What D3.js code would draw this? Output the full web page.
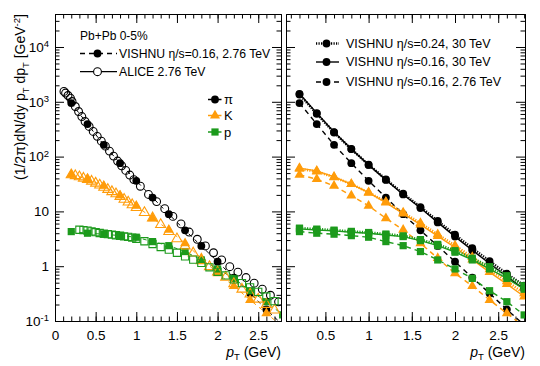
<!DOCTYPE html>
<html>
<head>
<meta charset="utf-8">
<script src="https://cdn.jsdelivr.net/npm/d3@7"></script>
<style>
  body { margin: 0; background: #fff; }
</style>
</head>
<body>
<div id="wrapper"></div>
<script>
// VISHNU hydro curves, pT grid (GeV)
const vishnuPt = [0.2, 0.4, 0.6, 0.8, 1.0, 1.2, 1.4, 1.6, 1.8, 2.0, 2.2, 2.4, 2.6, 2.8]

const pionEta016At276 = [946, 392, 164, 75.9, 36.1, 17.9, 8.9, 4.52, 2.34, 1.21, 0.62, 0.32, 0.162, 0.085]
const pionEta016At30 = [1400, 622, 280, 138, 70.6, 37.6, 20.4, 11.5, 6.3, 3.47, 1.95, 1.12, 0.65, 0.38]
const pionEta024At30 = [1360, 605, 275, 137, 71, 38.4, 21.1, 12.0, 6.7, 3.75, 2.13, 1.24, 0.73, 0.44]

const kaonEta016At276 = [46.5, 38.7, 29.2, 19.5, 12.6, 7.5, 4.6, 2.62, 1.40, 0.74, 0.435, 0.242, 0.138, 0.079]
const kaonEta016At30 = [61.7, 55.0, 42.7, 31.6, 21.9, 14.5, 9.1, 5.75, 3.55, 2.19, 1.32, 0.78, 0.47, 0.28]
const kaonEta024At30 = [59.5, 53.5, 42.0, 31.5, 22.2, 14.9, 9.5, 6.1, 3.8, 2.38, 1.46, 0.88, 0.53, 0.32]

const protonEta016At276 = [4.28, 4.0, 3.84, 3.61, 3.38, 2.81, 2.37, 1.85, 1.30, 0.89, 0.60, 0.357, 0.225, 0.129]
const protonEta016At30 = [4.79, 4.59, 4.41, 4.17, 4.0, 3.72, 3.47, 2.93, 2.37, 1.80, 1.30, 0.89, 0.60, 0.38]
const protonEta024At30 = [4.95, 4.75, 4.55, 4.32, 4.12, 3.86, 3.58, 3.06, 2.5, 1.92, 1.40, 0.98, 0.67, 0.44]

// ALICE 2.76 TeV data
const alicePionPt = [0.11, 0.13, 0.16, 0.19, 0.21, 0.25, 0.29, 0.33, 0.37, 0.42, 0.47, 0.52, 0.57, 0.62, 0.67,
  0.72, 0.77, 0.82, 0.87, 0.92, 0.97, 1.05, 1.15, 1.25, 1.35, 1.45, 1.55, 1.65, 1.75, 1.85,
  1.95, 2.05, 2.15, 2.25, 2.35, 2.45, 2.55, 2.65, 2.75]
const alicePion = [1549, 1445, 1303, 1167, 1012, 820, 665, 538, 437, 355, 288, 234, 191, 155, 126,
  102, 83, 68, 56, 46, 38, 28.8, 20.4, 15.1, 11.2, 8.1, 5.9, 4.2, 3.1, 2.34,
  1.76, 1.30, 0.98, 0.78, 0.62, 0.49, 0.38, 0.295, 0.224]

const aliceKaonPt = [0.2, 0.25, 0.3, 0.35, 0.4, 0.45, 0.5, 0.55, 0.6, 0.65, 0.7, 0.75, 0.8, 0.85, 0.9, 0.95, 1.0,
  1.1, 1.2, 1.3, 1.4, 1.5, 1.6, 1.7, 1.8, 1.9, 2.0, 2.1, 2.2, 2.3, 2.4, 2.5, 2.6, 2.7]
const aliceKaon = [46.5, 44.7, 42.7, 40.3, 38.0, 35.5, 32.7, 30.2, 27.5, 25.1, 22.9, 20.9, 18.6, 16.6, 14.8, 13.2, 11.7,
  9.5, 7.6, 5.75, 4.27, 3.16, 2.34, 1.74, 1.26, 0.98, 0.78, 0.63, 0.48, 0.38, 0.31, 0.25, 0.20, 0.158]

const aliceProtonPt = [0.3, 0.35, 0.4, 0.45, 0.5, 0.55, 0.6, 0.65, 0.7, 0.75, 0.8, 0.85, 0.9, 0.95, 1.0,
  1.1, 1.2, 1.3, 1.4, 1.5, 1.6, 1.7, 1.8, 1.9, 2.0, 2.1, 2.2, 2.3, 2.4, 2.5, 2.6, 2.7]
const aliceProton = [4.62, 4.57, 4.47, 4.32, 4.17, 4.03, 3.94, 3.85, 3.76, 3.67, 3.59, 3.51, 3.43, 3.31, 3.16,
  2.85, 2.54, 2.24, 2.0, 1.76, 1.51, 1.32, 1.15, 0.955, 0.79, 0.68, 0.575, 0.49, 0.41, 0.34, 0.28, 0.23]

const leftXTicks = [0, 0.5, 1, 1.5, 2, 2.5]
const rightXTicks = [0.5, 1, 1.5, 2, 2.5]
const yTicks = [0.1, 1, 10, 100, 1000, 10000]

const pionColor = "black"
const kaonColor = "#ff9c0a"
const protonColor = "#1c9a1c"
const font = '"Liberation Sans", Arial, sans-serif'

//1_dimensions
const width = 540
const height = 366
const frameTop = 14
const frameBottom = 321

//2_canvas
const svg = d3.select("#wrapper").append("svg")
    .attr("width", width)
    .attr("height", height)
    .style("font-family", font)

//3_scales
const yScale = d3.scaleLog().domain([0.1, 4e4]).range([frameBottom, frameTop])
const xLeft = d3.scaleLinear().domain([0, 2.78]).range([55, 281])
const xRight = d3.scaleLinear().domain([0.044, 2.81]).range([286, 525])

const minorY = []
yTicks.forEach(dec => {
  for (let k = 2; k <= 9; k++) if (dec * k < 4e4) minorY.push(dec * k)
})

const zip = (xs, ys) => xs.map((pt, i) => ({pt: pt, v: ys[i]}))

function supLabel(sel) {
  sel.each(function(d) {
    const t = d3.select(this)
    t.text(null)
    if (d === 1) { t.append("tspan").text("1"); return }
    if (d === 10) { t.append("tspan").text("10"); return }
    const e = Math.round(Math.log10(d))
    t.append("tspan").text("10")
    t.append("tspan").attr("dy", "-0.5em").style("font-size", "9.5px").text(e)
  })
}

function drawFrame(x, xTicks, showYLabels, id) {
  const [x0, x1] = x.range()
  const minorX = d3.range(0, 2.85, 0.1).filter(v => v >= x.domain()[0] && v <= x.domain()[1])
  const g = svg.append("g")

  const styleAxis = a => {
    a.attr("font-family", null).attr("font-size", null)
    a.selectAll("path, line").attr("stroke", "black").attr("stroke-width", 1)
    a.selectAll("text").attr("fill", "black").style("font-size", "13.5px")
  }

  // bottom / top
  g.append("g").attr("transform", `translate(0,${frameBottom})`)
      .call(d3.axisBottom(x).tickValues(minorX).tickSize(-4.5).tickSizeOuter(0).tickFormat(""))
      .call(styleAxis)
  g.append("g").attr("transform", `translate(0,${frameBottom})`)
      .call(d3.axisBottom(x).tickValues(xTicks).tickSize(-9).tickSizeOuter(0).tickPadding(9)
        .tickFormat(d3.format("~g")))
      .call(styleAxis)
  g.append("g").attr("transform", `translate(0,${frameTop})`)
      .call(d3.axisTop(x).tickValues(minorX).tickSize(-4.5).tickSizeOuter(0).tickFormat(""))
      .call(styleAxis)
  g.append("g").attr("transform", `translate(0,${frameTop})`)
      .call(d3.axisTop(x).tickValues(xTicks).tickSize(-9).tickSizeOuter(0).tickFormat(""))
      .call(styleAxis)

  // left / right
  g.append("g").attr("transform", `translate(${x0},0)`)
      .call(d3.axisLeft(yScale).tickValues(minorY).tickSize(-4.5).tickSizeOuter(0).tickFormat(""))
      .call(styleAxis)
  const yl = g.append("g").attr("transform", `translate(${x0},0)`)
      .call(d3.axisLeft(yScale).tickValues(yTicks).tickSize(-9).tickSizeOuter(0).tickPadding(6))
      .call(styleAxis)
  if (showYLabels) yl.selectAll("text").call(supLabel)
  else yl.selectAll("text").remove()
  g.append("g").attr("transform", `translate(${x1},0)`)
      .call(d3.axisRight(yScale).tickValues(minorY).tickSize(-4.5).tickSizeOuter(0).tickFormat(""))
      .call(styleAxis)
  g.append("g").attr("transform", `translate(${x1},0)`)
      .call(d3.axisRight(yScale).tickValues(yTicks).tickSize(-9).tickSizeOuter(0).tickFormat(""))
      .call(styleAxis)

  // x title
  const xt = svg.append("text")
      .attr("x", x1).attr("y", 356.5)
      .attr("text-anchor", "end")
      .style("font-size", "14px")
  xt.append("tspan").style("font-style", "italic").text("p")
  xt.append("tspan").attr("dy", 3.5).style("font-size", "9.5px").text("T")
  xt.append("tspan").attr("dy", -3.5).text(" (GeV)")

  svg.append("clipPath").attr("id", id)
    .append("rect").attr("x", x0).attr("y", frameTop).attr("width", x1 - x0).attr("height", frameBottom - frameTop)
  return svg.append("g").attr("clip-path", `url(#${id})`)
}

const symbolOf = {
  circle: d3.symbol().type(d3.symbolCircle).size(48),
  triangle: d3.symbol().type(d3.symbolTriangle).size(44),
  square: d3.symbol().type(d3.symbolSquare).size(52)
}

function drawLine(g, x, data, color, dash, w) {
  g.append("path")
      .datum(data)
      .attr("fill", "none")
      .attr("stroke", color)
      .attr("stroke-width", w)
      .attr("stroke-dasharray", dash)
      .attr("d", d3.line().x(d => x(d.pt)).y(d => yScale(d.v)))
}

function drawMarkers(g, x, data, color, shape, open) {
  g.append("g").selectAll("path")
    .data(data)
    .join("path")
      .attr("transform", d => `translate(${x(d.pt)},${yScale(d.v)})`)
      .attr("d", symbolOf[shape]())
      .attr("fill", open ? "none" : color)
      .attr("stroke", color)
      .attr("stroke-width", open ? 1.1 : 0)
}

//4_left panel
const leftG = drawFrame(xLeft, leftXTicks, true, "clipLeft")
const leftSets = [
  [pionEta016At276, alicePionPt, alicePion, pionColor, "circle"],
  [kaonEta016At276, aliceKaonPt, aliceKaon, kaonColor, "triangle"],
  [protonEta016At276, aliceProtonPt, aliceProton, protonColor, "square"]
]
leftSets.forEach(([model, apt, aval, color, shape]) => {
  drawLine(leftG, xLeft, zip(vishnuPt, model), color, "4,4", 1)
  drawMarkers(leftG, xLeft, zip(vishnuPt, model), color, shape, false)
})
leftSets.forEach(([model, apt, aval, color, shape]) => {
  drawMarkers(leftG, xLeft, zip(apt, aval), color, shape, true)
})

//5_right panel
const rightG = drawFrame(xRight, rightXTicks, false, "clipRight")
const rightSets = [
  [pionEta016At276, pionEta024At30, pionEta016At30, pionColor, "circle"],
  [kaonEta016At276, kaonEta024At30, kaonEta016At30, kaonColor, "triangle"],
  [protonEta016At276, protonEta024At30, protonEta016At30, protonColor, "square"]
]
rightSets.forEach(([low, visc, high, color, shape]) => {
  drawLine(rightG, xRight, zip(vishnuPt, low), color, "5,4", 1.4)
  drawMarkers(rightG, xRight, zip(vishnuPt, low), color, shape, false)
  drawLine(rightG, xRight, zip(vishnuPt, visc), color, "1.2,1.3", 2.6)
  drawMarkers(rightG, xRight, zip(vishnuPt, visc), color, shape, false)
  drawLine(rightG, xRight, zip(vishnuPt, high), color, null, 1.4)
  drawMarkers(rightG, xRight, zip(vishnuPt, high), color, shape, false)
})

//6_y title
const yt = svg.append("text")
    .attr("transform", "translate(25,97) rotate(-90)")
    .attr("text-anchor", "middle")
    .style("font-size", "14px")
yt.append("tspan").text("(1/2\u03c0)dN/dy p")
yt.append("tspan").attr("dy", 3.5).style("font-size", "9.5px").text("T")
yt.append("tspan").attr("dy", -3.5).text(" dp")
yt.append("tspan").attr("dy", 3.5).style("font-size", "9.5px").text("T")
yt.append("tspan").attr("dy", -3.5).text(" [GeV")
yt.append("tspan").attr("dy", -5).style("font-size", "9.5px").text("-2")
yt.append("tspan").attr("dy", 5).text("]")

//7_legends
function legendRow(x, y, len, gap, dash, w, color, open, label, size) {
  svg.append("line")
      .attr("x1", x).attr("x2", x + len).attr("y1", y).attr("y2", y)
      .attr("stroke", color).attr("stroke-width", w).attr("stroke-dasharray", dash)
  svg.append("path")
      .attr("transform", `translate(${x + len / 2 - 1},${y})`)
      .attr("d", symbolOf.circle())
      .attr("fill", open ? "white" : color)
      .attr("stroke", color).attr("stroke-width", open ? 1.1 : 0)
  svg.append("text")
      .attr("x", x + len + gap).attr("y", y + 4.3)
      .style("font-size", size)
      .text(label)
}

svg.append("text").attr("x", 80).attr("y", 39.5).style("font-size", "12px").text("Pb+Pb 0-5%")
legendRow(80, 53.5, 37, 2, "5,4", 1.3, "black", false, "VISHNU \u03b7/s=0.16, 2.76 TeV", "12.2px")
legendRow(80, 71.7, 37, 2, null, 1.3, "black", true, "ALICE 2.76 TeV", "12.2px")

const speciesLegend = [["\u03c0", pionColor, "circle", 99.5], ["K", kaonColor, "triangle", 115.5], ["p", protonColor, "square", 132]]
speciesLegend.forEach(([name, color, shape, y]) => {
  svg.append("line").attr("x1", 208).attr("x2", 221.5).attr("y1", y).attr("y2", y)
      .attr("stroke", color).attr("stroke-width", 1.5)
  svg.append("path").attr("transform", `translate(215,${y})`).attr("d", symbolOf[shape]()).attr("fill", color)
  svg.append("text").attr("x", 224).attr("y", y + 4.5).style("font-size", "13px").text(name)
})

legendRow(316, 43.5, 23, 7, "1.2,1.3", 2.6, "black", false, "VISHNU \u03b7/s=0.24, 30 TeV", "12.5px")
legendRow(316, 62, 23, 7, null, 1.4, "black", false, "VISHNU \u03b7/s=0.16, 30 TeV", "12.5px")
legendRow(316, 82, 23, 7, "5,4", 1.4, "black", false, "VISHNU \u03b7/s=0.16, 2.76 TeV", "12.5px")
</script>
</body>
</html>
